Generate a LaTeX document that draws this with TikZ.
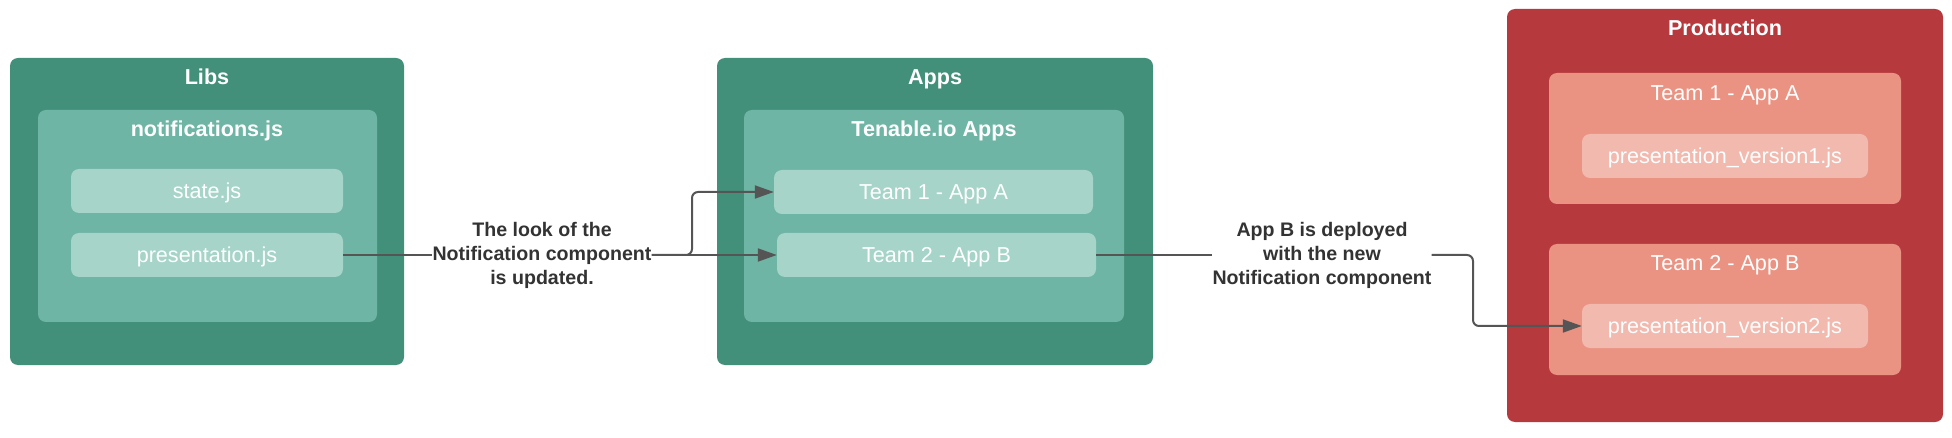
\documentclass[tikz,border=0pt]{standalone}
\usepackage{fontspec}
\setmainfont{Liberation Sans}
\usetikzlibrary{arrows.meta}
\definecolor{gdark}{HTML}{43907A}
\definecolor{gmid}{HTML}{6EB5A5}
\definecolor{glight}{HTML}{A6D4C8}
\definecolor{rdark}{HTML}{B6393E}
\definecolor{rmid}{HTML}{EB9383}
\definecolor{rlight}{HTML}{F2B9AE}
\definecolor{lineg}{HTML}{555555}
\definecolor{labtext}{HTML}{333333}
\tikzset{
  panel/.style={rounded corners=8pt, inner sep=0pt},
  item/.style={rounded corners=8pt, inner sep=0pt, minimum height=44pt, text=white, text height=17.5pt, text depth=2.5pt, font=\fontsize{21.6}{26}\selectfont},
  titletext/.style={text=white, inner sep=0pt, text height=17.5pt, text depth=2.5pt, font=\fontsize{21.6}{26}\selectfont\bfseries},
  subtitletext/.style={text=white, inner sep=0pt, text height=17.5pt, text depth=2.5pt, font=\fontsize{21.6}{26}\selectfont},
  lab/.style={fill=white, inner sep=0pt, align=center, text=labtext, font=\fontsize{19.6}{24}\selectfont\bfseries},
  conn/.style={draw=lineg, line width=2pt},
  arr/.style={conn, -{Triangle[length=19pt,width=13pt]}, color=lineg},
}
\begin{document}
\begin{tikzpicture}[x=1pt,y=-1pt]
\useasboundingbox (0,0) rectangle (1952,438);
% Libs
\node[panel, fill=gdark, minimum width=394pt, minimum height=307pt] (libs) at (207,211.5) {};
\node[titletext] (libsT) at (207,77) {Libs};
\node[panel, fill=gmid, minimum width=339pt, minimum height=212pt] (notif) at (207.5,216) {};
\node[titletext] (notifT) at (207,129) {notifications.js};
\node[item, fill=glight, minimum width=272pt] (state) at (207,191) {state.js};
\node[item, fill=glight, minimum width=272pt] (pres) at (207,255) {presentation.js};
% Apps
\node[panel, fill=gdark, minimum width=436pt, minimum height=307pt] (apps) at (935,211.5) {};
\node[titletext] (appsT) at (935,77) {Apps};
\node[panel, fill=gmid, minimum width=380pt, minimum height=212pt] (ten) at (934,216) {};
\node[titletext] (tenT) at (934,129) {Tenable.io Apps};
\node[item, fill=glight, minimum width=319pt] (t1a) at (933.5,192) {Team 1 - App A};
\node[item, fill=glight, minimum width=319pt] (t2b) at (936.5,255) {Team 2 - App B};
% Production
\node[panel, fill=rdark, minimum width=436pt, minimum height=413pt] (prod) at (1725,215.5) {};
\node[titletext] (prodT) at (1725,28) {Production};
\node[panel, fill=rmid, minimum width=352pt, minimum height=131pt] (pt1) at (1725,138.5) {};
\node[subtitletext] (pt1T) at (1725,93) {Team 1 - App A};
\node[item, fill=rlight, minimum width=286pt] (pv1) at (1725,156) {presentation\_version1.js};
\node[panel, fill=rmid, minimum width=352pt, minimum height=131pt] (pt2) at (1725,309.5) {};
\node[subtitletext] (pt2T) at (1725,263) {Team 2 - App B};
\node[item, fill=rlight, minimum width=286pt] (pv2) at (1725,326) {presentation\_version2.js};
% Labels
\node[lab] (lab1) at (542,255) {The look of the\\Notification component\\is updated.};
\node[lab] (lab2) at (1322,255) {App B is deployed\\with the new\\Notification component};
% Connectors
\draw[conn] (pres.east) -- (lab1.west);
\draw[arr] (lab1.east) -- (t2b.west);
\coordinate (br1) at (692,255);
\draw[arr, rounded corners=6pt] (lab1.east) -- (br1) |- (t1a.west);
\draw[conn] (t2b.east) -- (lab2.west);
\coordinate (br2) at (1473,255);
\draw[arr, rounded corners=6pt] (lab2.east) -- (br2) |- (pv2.west);
\end{tikzpicture}
\end{document}
